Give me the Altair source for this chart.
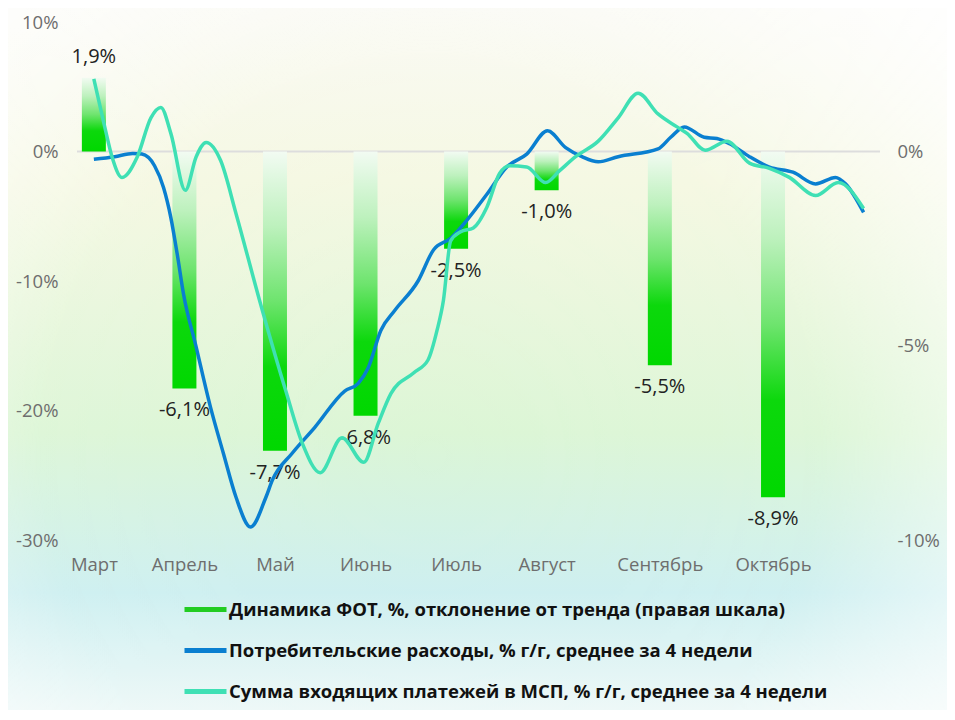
import altair as alt
import pandas as pd

# ---- data ----
months = ["Март", "Апрель", "Май", "Июнь", "Июль", "Август", "Сентябрь", "Октябрь"]
month_pos = [0, 1, 2, 3, 4, 5, 6.25, 7.5]
fot_values = [1.9, -6.1, -7.7, -6.8, -2.5, -1.0, -5.5, -8.9]

blue_x = [0.0, 0.23, 0.43, 0.53, 0.67, 0.77, 0.85, 0.92, 0.99, 1.13, 1.29, 1.43, 1.57, 1.73,
          1.90, 1.97, 2.19, 2.44, 2.77, 2.92, 3.03, 3.17, 3.32, 3.58, 3.75, 3.94, 4.12, 4.34,
          4.56, 4.78, 5.01, 5.21, 5.39, 5.57, 5.79, 6.23, 6.37, 6.52, 6.74, 6.88, 7.02, 7.24,
          7.46, 7.72, 7.97, 8.19, 8.30, 8.50]
blue_y = [-0.6, -0.4, -0.15, -0.2, -1.1, -2.8, -5.1, -7.9, -11.0, -15.1, -19.8, -23.3, -26.7, -29.0,
          -26.7, -25.4, -23.3, -21.3, -18.5, -17.9, -16.7, -13.8, -12.3, -10.0, -7.6, -6.7, -5.3, -3.3,
          -1.2, -0.2, 1.6, 0.3, -0.4, -0.8, -0.4, 0.2, 1.1, 1.9, 1.1, 1.0, 0.6, -0.4,
          -1.2, -1.6, -2.5, -2.0, -2.5, -4.7]

teal_x = [0.0, 0.12, 0.20, 0.31, 0.48, 0.63, 0.74, 0.85, 1.01, 1.13, 1.24, 1.40, 1.57, 1.83,
          2.12, 2.30, 2.50, 2.74, 2.98, 3.14, 3.28, 3.53, 3.69, 3.79, 3.86, 3.94, 4.05, 4.19,
          4.34, 4.48, 4.59, 4.78, 4.99, 5.14, 5.32, 5.57, 5.79, 6.01, 6.23, 6.44, 6.55, 6.75,
          6.99, 7.24, 7.46, 7.68, 7.97, 8.22, 8.50]
teal_y = [5.6, 1.9, -0.4, -2.0, -0.4, 2.6, 3.4, 1.4, -3.0, -0.4, 0.7, -0.7, -4.8, -11.5,
          -18.5, -22.5, -24.8, -22.1, -24.0, -21.0, -18.7, -17.1, -16.1, -13.8, -11.5, -6.9, -6.2, -5.9,
          -4.3, -1.7, -1.1, -1.2, -2.4, -1.5, -0.4, 0.8, 2.6, 4.5, 2.9, 1.9, 1.4, 0.1,
          0.8, -0.9, -1.3, -2.0, -3.4, -2.4, -4.4]

series_names = [
    "Динамика ФОТ, %, отклонение от тренда (правая шкала)",
    "Потребительские расходы, % г/г, среднее за 4 недели",
    "Сумма входящих платежей в МСП, % г/г, среднее за 4 недели",
]
series_colors = ["#22cc22", "#0a7fd0", "#3fe0b4"]

# ---- tables ----
bars_df = pd.DataFrame({
    "x": month_pos,
    "month": months,
    "v": fot_values,
    "label": [f"{v:.1f}".replace(".", ",") + "%" for v in fot_values],
})
lines_df = pd.concat([
    pd.DataFrame({"x": blue_x, "v": blue_y, "series": series_names[1]}),
    pd.DataFrame({"x": teal_x, "v": teal_y, "series": series_names[2]}),
])
zero_df = pd.DataFrame({"z": [0]})
x_lo, x_hi = -0.131, 8.626
r_lo, r_hi = -10, 10 / 3
# backdrop extent (in data units, reaching past the plot to tint the whole figure)
bg_df = pd.DataFrame({"x0": [-0.97], "x1": [9.45], "y0": [-14.7], "y1": [3.9]})

FONT = "Open Sans"
AX_SIZE = 18.5
x_scale = alt.Scale(domain=[x_lo, x_hi], nice=False, zero=False)
label_expr = ("[" + ",".join(f"'{m}'" for m in months) + "][indexof(["
              + ",".join(str(p) for p in month_pos) + "], datum.value)]")
x_axis = alt.Axis(values=month_pos, labelExpr=label_expr, title=None, domain=False,
                  ticks=False, grid=False, labelPadding=15, labelFontSize=AX_SIZE,
                  labelColor="#6e6e6e", labelFont=FONT, zindex=1)
right_axis = alt.Axis(orient="right", values=[-10, -5, 0], labelExpr="datum.value + '%'",
                      title=None, domain=False, ticks=False, grid=False, labelPadding=17,
                      labelFontSize=AX_SIZE, labelColor="#6e6e6e", labelFont=FONT, zindex=1)
left_axis = alt.Axis(orient="left", values=[-30, -20, -10, 0, 10], labelExpr="datum.value + '%'",
                     title=None, domain=False, ticks=False, grid=False, labelPadding=19,
                     labelFontSize=AX_SIZE, labelColor="#6e6e6e", labelFont=FONT, zindex=1)

right_scale = alt.Scale(domain=[r_lo, r_hi], nice=False, zero=False)
left_scale = alt.Scale(domain=[-30, 10], nice=False, zero=False)

bar_gradient = alt.Gradient(
    gradient="linear", x1=0, x2=0, y1=0, y2=1,
    stops=[
        alt.GradientStop(offset=0, color="#f2fbf2"),
        alt.GradientStop(offset=0.25, color="#bdf1bd"),
        alt.GradientStop(offset=0.5, color="#6ee46e"),
        alt.GradientStop(offset=0.72, color="#0cd80c"),
        alt.GradientStop(offset=1, color="#00d800"),
    ],
)
bg_linear = alt.Gradient(
    gradient="linear", x1=0, x2=0, y1=0, y2=1,
    stops=[
        alt.GradientStop(offset=0, color="#fafaf4"),
        alt.GradientStop(offset=0.25, color="#f5f8e2"),
        alt.GradientStop(offset=0.6, color="#dcf6d6"),
        alt.GradientStop(offset=0.82, color="#cdeff0"),
        alt.GradientStop(offset=1, color="#f0f9f8"),
    ],
)
bg_vignette = alt.Gradient(
    gradient="radial", x1=0.45, y1=0.6, r1=0, x2=0.45, y2=0.6, r2=0.75,
    stops=[
        alt.GradientStop(offset=0, color="rgba(255,255,255,0)"),
        alt.GradientStop(offset=0.55, color="rgba(255,255,255,0.05)"),
        alt.GradientStop(offset=1, color="rgba(255,255,255,0.95)"),
    ],
)

bg1 = alt.Chart(bg_df).mark_rect(fill=bg_linear).encode(
    x=alt.X("x0:Q", scale=x_scale, axis=x_axis), x2="x1:Q",
    y=alt.Y("y0:Q", scale=right_scale, axis=right_axis), y2="y1:Q",
)
bg2 = alt.Chart(bg_df).mark_rect(fill=bg_vignette).encode(
    x=alt.X("x0:Q", scale=x_scale, axis=x_axis), x2="x1:Q",
    y=alt.Y("y0:Q", scale=right_scale, axis=right_axis), y2="y1:Q",
)

zero_rule = alt.Chart(zero_df).mark_rule(color="#dddddd", strokeWidth=2).encode(
    y=alt.Y("z:Q", scale=right_scale, axis=right_axis)
)

bars = alt.Chart(bars_df).mark_bar(size=24, color=bar_gradient).encode(
    x=alt.X("x:Q", scale=x_scale, axis=x_axis),
    y=alt.Y("v:Q", scale=right_scale, axis=right_axis),
)

txt_pos = alt.Chart(bars_df).transform_filter("datum.v >= 0").mark_text(
    dy=-21, fontSize=20, font=FONT, color="#222222"
).encode(x=alt.X("x:Q", scale=x_scale, axis=x_axis),
         y=alt.Y("v:Q", scale=right_scale, axis=right_axis), text="label:N")

txt_neg = alt.Chart(bars_df).transform_filter("datum.v < 0").mark_text(
    dy=22, fontSize=20, font=FONT, color="#222222"
).encode(x=alt.X("x:Q", scale=x_scale, axis=x_axis),
         y=alt.Y("v:Q", scale=right_scale, axis=right_axis), text="label:N")

right_group = alt.layer(bg1, bg2, zero_rule, bars, txt_pos, txt_neg)

lines = alt.Chart(lines_df).mark_line(strokeWidth=3.5, interpolate="monotone").encode(
    x=alt.X("x:Q", scale=x_scale, axis=x_axis),
    y=alt.Y("v:Q", scale=left_scale, axis=left_axis),
    color=alt.Color("series:N", scale=alt.Scale(domain=series_names, range=series_colors),
                    legend=alt.Legend(title=None, orient="none", legendX=105, legendY=564,
                                      symbolType="stroke", symbolSize=1764, symbolStrokeWidth=5,
                                      labelFont=FONT, labelFontWeight="bold", labelFontSize=18.5,
                                      labelColor="#111111", labelLimit=0, labelOffset=0,
                                      rowPadding=7, padding=0, direction="vertical", zindex=1)),
    detail="series:N",
)

chart = alt.layer(right_group, lines).resolve_scale(y="independent").properties(
    width=803, height=518,
    autosize=alt.AutoSizeParams(type="none"),
    padding={"left": 69, "top": 14, "right": 67, "bottom": 170},
    background="#ffffff",
).configure_view(stroke=None)

chart.save("out.html", embed_options={"renderer": "svg", "actions": False})
